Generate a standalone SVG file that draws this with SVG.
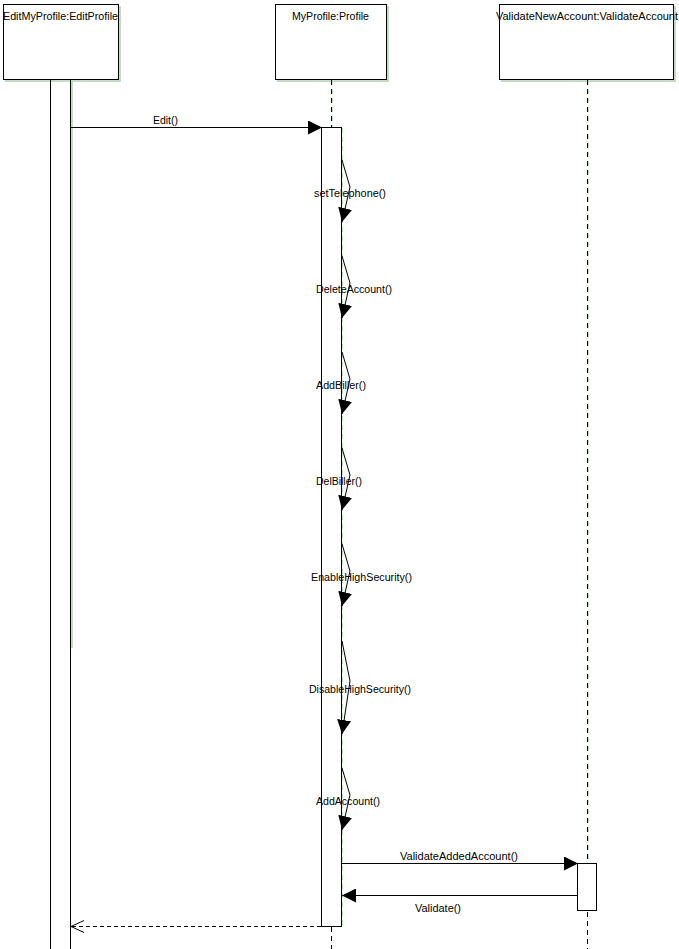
<svg xmlns="http://www.w3.org/2000/svg" width="679" height="949" viewBox="0 0 679 949">
  <style>
    .box { fill: #ffffff; stroke: #000000; stroke-width: 1; }
    .shadow { fill: #c4dcc4; stroke: none; }
    .shadowline { stroke: #c4dcc4; stroke-width: 2; fill: none; }
    .act { fill: #ffffff; stroke: #000000; stroke-width: 1; }
    .life { stroke: #000000; stroke-width: 1; stroke-dasharray: 5 4; fill: none; }
    .lifeshadow { stroke: #c4dcc4; stroke-width: 1; stroke-dasharray: 5 4; fill: none; }
    .msg { stroke: #000000; stroke-width: 1; fill: none; }
    .ret { stroke: #000000; stroke-width: 1; fill: none; stroke-dasharray: 4 3; }
    text { font-family: "Liberation Sans", Arial, sans-serif; font-size: 10px; fill: #000000; }
  </style>
  <defs>
    <marker id="filled" markerUnits="userSpaceOnUse" markerWidth="15" markerHeight="14" refX="14" refY="7" orient="auto" viewBox="0 0 15 14">
      <path d="M0,0 L14,7 L0,14 Z" fill="#000000"/>
    </marker>
    <marker id="open" markerUnits="userSpaceOnUse" markerWidth="14" markerHeight="14" refX="13" refY="7" orient="auto" viewBox="0 0 14 14">
      <path d="M0,1 L13,7 L0,13" fill="none" stroke="#000000" stroke-width="1"/>
    </marker>
  </defs>

  <!-- EditMyProfile:EditProfile -->
  <g id="editProfile">
    <rect class="shadow" x="5" y="6" width="116" height="76"/>
    <rect class="box" x="3.5" y="4.5" width="115" height="75"/>
    <text x="3" y="20" textLength="115" lengthAdjust="spacingAndGlyphs">EditMyProfile:EditProfile</text>
    <line class="shadowline" x1="72" y1="80" x2="72" y2="648"/>
    <line class="msg" x1="50.5" y1="79.5" x2="50.5" y2="949"/>
    <line class="msg" x1="70.5" y1="79.5" x2="70.5" y2="949"/>
  </g>

  <!-- MyProfile:Profile -->
  <g id="myProfile">
    <rect class="shadow" x="277" y="6" width="112" height="76"/>
    <rect class="box" x="275.5" y="4.5" width="111" height="75"/>
    <text x="292" y="20" textLength="77" lengthAdjust="spacingAndGlyphs">MyProfile:Profile</text>
    <line class="lifeshadow" x1="332.5" y1="80" x2="332.5" y2="127"/>
    <line class="life" x1="331.5" y1="80" x2="331.5" y2="127"/>
    <line class="lifeshadow" x1="342.5" y1="128" x2="342.5" y2="926"/>
    <rect class="act" x="321.5" y="127.5" width="20" height="799"/>
    <line class="life" x1="331.5" y1="927" x2="331.5" y2="949"/>
  </g>

  <!-- ValidateNewAccount:ValidateAccount -->
  <g id="validateAccount">
    <rect class="shadow" x="501" y="6" width="175" height="76"/>
    <rect class="box" x="499.5" y="4.5" width="174" height="75"/>
    <text x="496" y="20" textLength="182" lengthAdjust="spacingAndGlyphs">ValidateNewAccount:ValidateAccount</text>
    <line class="lifeshadow" x1="588.5" y1="80" x2="588.5" y2="863"/>
    <line class="life" x1="587.5" y1="80" x2="587.5" y2="863"/>
    <rect class="act" x="577.5" y="863.5" width="19" height="47"/>
    <line class="life" x1="587.5" y1="912" x2="587.5" y2="949"/>
  </g>

  <!-- Messages -->
  <g id="connectors">
    <line class="msg" x1="71" y1="127.5" x2="322" y2="127.5" marker-end="url(#filled)"/>
    <text x="153" y="124" textLength="25" lengthAdjust="spacingAndGlyphs">Edit()</text>

    <polyline class="msg" points="342,160 350,187 342,222" marker-end="url(#filled)"/>
    <text x="314" y="197" textLength="72" lengthAdjust="spacingAndGlyphs">setTelephone()</text>

    <polyline class="msg" points="342,256 350,283 342,318" marker-end="url(#filled)"/>
    <text x="316" y="293" textLength="76" lengthAdjust="spacingAndGlyphs">DeleteAccount()</text>

    <polyline class="msg" points="342,352 350,379 342,414" marker-end="url(#filled)"/>
    <text x="316" y="389" textLength="50" lengthAdjust="spacingAndGlyphs">AddBiller()</text>

    <polyline class="msg" points="342,448 350,475 342,510" marker-end="url(#filled)"/>
    <text x="316" y="485" textLength="46" lengthAdjust="spacingAndGlyphs">DelBiller()</text>

    <polyline class="msg" points="342,544 350,571 342,606" marker-end="url(#filled)"/>
    <text x="311" y="581" textLength="101" lengthAdjust="spacingAndGlyphs">EnableHighSecurity()</text>

    <polyline class="msg" points="342,641 350,681 342,734" marker-end="url(#filled)"/>
    <text x="309" y="693" textLength="102" lengthAdjust="spacingAndGlyphs">DisableHighSecurity()</text>

    <polyline class="msg" points="342,768 350,795 342,830" marker-end="url(#filled)"/>
    <text x="316" y="805" textLength="64" lengthAdjust="spacingAndGlyphs">AddAccount()</text>

    <line class="msg" x1="342" y1="863.5" x2="578" y2="863.5" marker-end="url(#filled)"/>
    <text x="400" y="860" textLength="118" lengthAdjust="spacingAndGlyphs">ValidateAddedAccount()</text>

    <line class="msg" x1="577" y1="895.5" x2="342" y2="895.5" marker-end="url(#filled)"/>
    <text x="415" y="912" textLength="46" lengthAdjust="spacingAndGlyphs">Validate()</text>

    <line class="ret" x1="321" y1="926.5" x2="71" y2="926.5" marker-end="url(#open)"/>
  </g>
</svg>
